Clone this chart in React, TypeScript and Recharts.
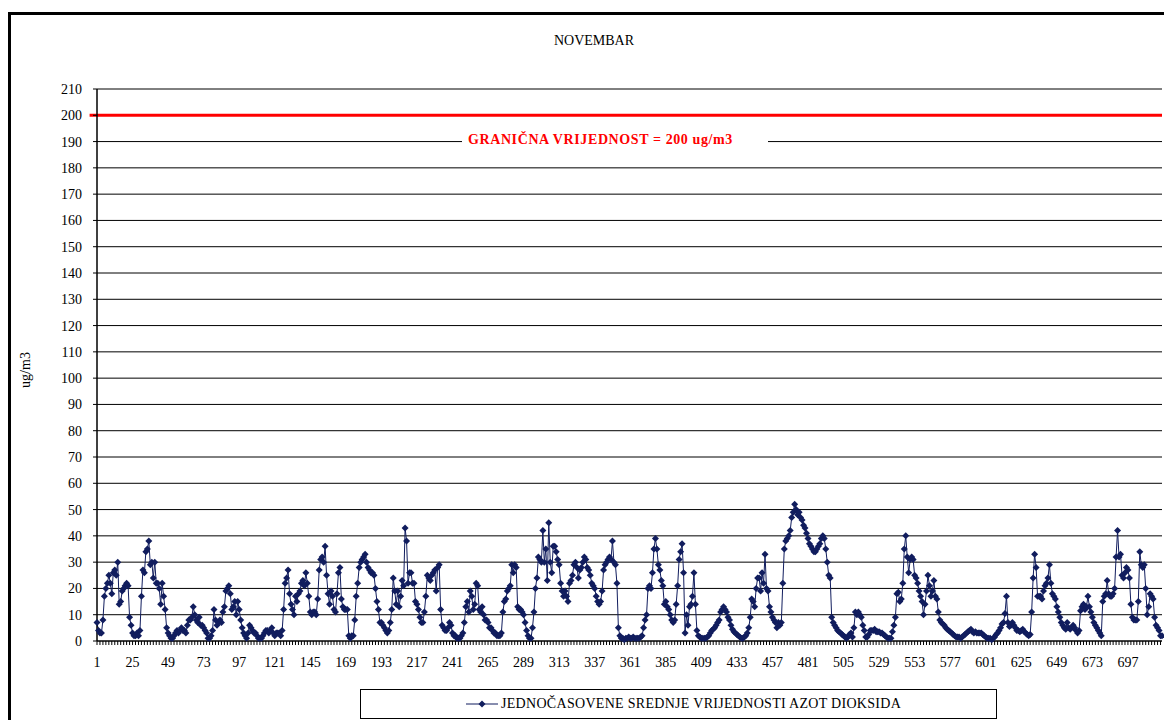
import React from "react"
import {
  LineChart,
  Line,
  XAxis,
  YAxis,
  CartesianGrid,
  ReferenceLine,
  Legend,
} from "recharts"

// hourly NO2 means, November, 24 values per day
const no2Days01to05 = [
  7, 4, 3, 3, 8, 17, 20, 22, 25, 22, 18, 26, 27, 25, 30, 14, 15, 19, 20, 21, 22, 21, 9, 6,
  3, 2, 2, 3, 2, 4, 17, 27, 26, 34, 35, 38, 29, 30, 24, 30, 22, 22, 20, 14, 22, 17, 12, 5,
  3, 2, 1, 1, 2, 3, 4, 3, 4, 5, 4, 4, 3, 6, 8, 8, 9, 13, 10, 8, 7, 9, 6, 6,
  5, 4, 3, 1, 1, 2, 4, 12, 8, 6, 7, 8, 7, 11, 13, 19, 20, 21, 18, 12, 13, 15, 10, 15,
  12, 8, 5, 3, 2, 1, 3, 6, 5, 4, 3, 3, 2, 1, 1, 1, 2, 3, 4, 4, 3, 4, 5, 3,
]
const no2Days06to10 = [
  2, 3, 3, 3, 2, 4, 12, 22, 24, 27, 18, 14, 12, 10, 17, 15, 18, 19, 22, 23, 21, 26, 22, 17,
  11, 10, 11, 11, 10, 16, 27, 31, 32, 30, 36, 25, 18, 14, 19, 17, 12, 11, 18, 26, 28, 16, 13, 12,
  12, 12, 2, 1, 2, 2, 8, 17, 22, 28, 30, 31, 32, 33, 30, 28, 27, 26, 26, 25, 20, 15, 12, 7,
  7, 6, 5, 4, 3, 4, 7, 12, 24, 19, 14, 19, 13, 17, 23, 21, 43, 38, 22, 26, 26, 22, 22, 15,
  14, 12, 9, 7, 7, 11, 17, 25, 24, 23, 25, 26, 27, 19, 28, 29, 12, 6, 5, 4, 4, 5, 7, 6,
]
const no2Days11to15 = [
  3, 2, 2, 1, 1, 1, 2, 3, 7, 13, 15, 11, 19, 17, 12, 14, 22, 21, 12, 11, 13, 10, 8, 8,
  7, 5, 5, 4, 3, 3, 2, 2, 2, 3, 11, 15, 16, 19, 20, 21, 29, 26, 29, 28, 13, 12, 12, 11,
  10, 7, 4, 2, 1, 1, 5, 11, 20, 24, 32, 31, 30, 42, 30, 35, 23, 45, 30, 26, 36, 36, 34, 31,
  29, 22, 19, 17, 19, 17, 15, 22, 23, 25, 29, 30, 28, 24, 27, 28, 30, 32, 31, 28, 27, 25, 22, 21,
  20, 17, 15, 14, 15, 19, 27, 29, 30, 31, 32, 31, 38, 30, 29, 22, 5, 2, 1, 1, 0.5, 1, 1, 1.5,
]
const no2Days16to20 = [
  1, 1, 1.5, 1, 1, 1, 1, 1.5, 2, 5, 8, 10, 20, 21, 20, 26, 35, 39, 35, 29, 27, 23, 21, 14,
  15, 13, 12, 10, 8, 7, 8, 14, 21, 31, 34, 37, 26, 3, 10, 6, 13, 14, 17, 26, 14, 4, 2, 1.5,
  1, 1, 1, 1, 1.5, 2, 3, 4, 4.5, 5, 6, 7, 8, 11, 12, 13, 12, 11, 9, 8, 6, 4.5, 3.5, 3,
  2.5, 2, 1.5, 1, 1, 1.5, 2, 3, 5, 9, 16, 15, 13, 20, 24, 24, 19, 26, 22, 33, 20, 19, 13, 11,
  9, 8, 7, 5, 7, 6, 7, 22, 35, 38, 39, 40, 42, 47, 49, 52, 50, 48, 49, 47, 46, 44, 43, 41,
]
const no2Days21to25 = [
  39, 37, 36, 35, 34, 34, 35, 36, 37, 39, 40, 39, 35, 30, 25, 24, 9, 7, 6, 5, 4, 3.5, 3, 2.5,
  2, 1.5, 1, 1.5, 2.5, 3, 1.5, 5, 11, 10, 11, 10, 9, 6, 4, 1.5, 1.5, 2.5, 4, 4, 4, 4.5, 3.5, 3.5,
  3.5, 3, 3, 2.5, 2, 1.5, 1, 1, 1, 3.5, 6, 9, 18, 18.5, 15, 16, 22, 35, 40, 32, 26, 31, 32, 31,
  25, 24, 22, 19, 17, 15, 10, 14, 19, 25, 21, 17, 19, 23, 17, 16, 11, 8, 7, 6.5, 6, 5, 4.5, 4,
  3.5, 3, 2.5, 2, 1.5, 1.5, 1.5, 1, 1.5, 2, 2.5, 3, 3.5, 4, 4.5, 3.5, 3, 3.5, 3, 3, 3, 3, 2.5, 2,
]
const no2Days26to30 = [
  1.5, 1, 1, 1, 0.5, 1, 1.5, 2.5, 3, 4, 5, 6.5, 7, 10.5, 17, 7, 5.5, 6, 7, 6, 5, 4, 4, 3.5,
  4, 4.5, 3.5, 3, 2.5, 2, 2.5, 11, 24, 33, 28, 17, 17, 17, 16, 19, 21, 22, 24, 29, 22, 18, 17, 16,
  13, 11, 9, 7, 6, 5, 4.5, 7, 5, 4.5, 5, 6, 5, 4, 3, 4, 11.5, 13, 14, 12, 13, 17, 13, 11,
  9, 7, 6, 5, 4, 3, 2, 15, 17, 18, 23, 18, 17, 17, 18, 20, 32, 42, 32, 33, 25, 24, 26, 28,
  27, 24, 14, 9, 8, 8, 8, 15, 34, 29, 28, 29, 20, 10, 13, 18, 17, 16, 9, 6, 5, 4, 2, 2,
]

const yTicks = [0, 10, 20, 30, 40, 50, 60, 70, 80, 90, 100, 110, 120, 130, 140, 150, 160, 170, 180, 190, 200, 210]
const xLabels = [1, 25, 49, 73, 97, 121, 145, 169, 193, 217, 241, 265, 289, 313, 337, 361, 385, 409, 433, 457, 481, 505, 529, 553, 577, 601, 625, 649, 673, 697]
const LIMIT = 200

const values = [
  ...no2Days01to05,
  ...no2Days06to10,
  ...no2Days11to15,
  ...no2Days16to20,
  ...no2Days21to25,
  ...no2Days26to30,
]
const data = values.map((v, i) => ({ hour: i + 1, no2: v }))
// minor tick marks every 2 hours
const xTickMarks = data.filter((d) => d.hour % 2 === 1).map((d) => d.hour)

const NAVY = "#111d5e"
const FONT = "'Liberation Serif', 'DejaVu Serif', serif"

const Diamond = ({ cx, cy, r = 3.5 }: any) => {
  if (cx == null || cy == null) return null
  return (
    <polygon
      points={`${cx},${cy - r} ${cx + r},${cy} ${cx},${cy + r} ${cx - r},${cy}`}
      fill={NAVY}
    />
  )
}

const XTick = ({ x, y, payload }: any) => {
  if (!xLabels.includes(payload.value)) return <g />
  return (
    <text x={x} y={y} dy={20} textAnchor="middle" fill="#000" fontSize={14} fontFamily={FONT}>
      {payload.value}
    </text>
  )
}

// label sits on the 190 gridline, with a white box behind it
const LimitLabel = ({ viewBox }: any) => {
  const { x, y } = viewBox
  return (
    <g>
      <rect x={x + 365} y={y - 12} width={306} height={18} fill="#fff" />
      <text
        x={x + 371}
        y={y + 2}
        fill="#ff0000"
        fontWeight="bold"
        fontSize={14}
        letterSpacing={0.6}
        fontFamily={FONT}
      >
        GRANIČNA VRIJEDNOST = 200 ug/m3
      </text>
    </g>
  )
}

const LegendBox = () => (
  <div
    style={{
      width: 635,
      height: 28,
      border: "1px solid #000",
      background: "#fff",
      display: "flex",
      alignItems: "center",
      color: "#000",
    }}
  >
    <svg width={140} height={28} style={{ flexShrink: 0 }}>
      <line x1={105} y1={14} x2={137} y2={14} stroke={NAVY} strokeWidth={1} />
      <Diamond cx={121} cy={14} />
    </svg>
    <span style={{ fontFamily: FONT, fontSize: 14, letterSpacing: 0.3 }}>
      JEDNOČASOVENE SREDNJE VRIJEDNOSTI AZOT DIOKSIDA
    </span>
  </div>
)

export default function App() {
  return (
    <div
      style={{
        position: "absolute",
        left: 0,
        top: 0,
        width: 1164,
        height: 720,
        overflow: "hidden",
        background: "#fff",
      }}
    >
      <div
        style={{
          position: "absolute",
          left: 8,
          top: 12,
          width: 1200,
          height: 800,
          borderLeft: "3px solid #000",
          borderTop: "3px solid #000",
        }}
      />
      <div
        style={{
          position: "absolute",
          left: 0,
          top: 33,
          width: 1188,
          textAlign: "center",
          fontFamily: FONT,
          fontSize: 14,
          lineHeight: "16px",
        }}
      >
        NOVEMBAR
      </div>
      <div style={{ position: "absolute", left: 0, top: 0 }}>
        <LineChart
          width={1166}
          height={720}
          data={data}
          margin={{ top: 89, right: 4, left: 47, bottom: 19 }}
        >
          <CartesianGrid vertical={false} stroke="#000" strokeWidth={1} />
          <XAxis
            dataKey="hour"
            type="number"
            domain={[1, 720]}
            ticks={xTickMarks}
            interval={0}
            height={30}
            tickSize={4}
            tickMargin={2}
            tick={<XTick />}
            axisLine={{ stroke: "#000" }}
            tickLine={{ stroke: "#000" }}
          />
          <YAxis
            domain={[0, 210]}
            ticks={yTicks}
            interval={0}
            width={50}
            tickSize={4}
            tickMargin={11}
            axisLine={{ stroke: "#000", strokeWidth: 1.5 }}
            tickLine={{ stroke: "#000" }}
            tick={{ fill: "#000", fontSize: 14, fontFamily: FONT }}
            label={() => (
              <text
                x={30}
                y={370}
                transform="rotate(-90 30 370)"
                textAnchor="middle"
                fill="#000"
                fontSize={14}
                fontFamily={FONT}
              >
                ug/m3
              </text>
            )}
          />
          <ReferenceLine
            segment={[
              { x: -4, y: LIMIT },
              { x: 720, y: LIMIT },
            ]}
            ifOverflow="visible"
            stroke="#ff0000"
            strokeWidth={3}
          />
          <ReferenceLine y={190} stroke="none" label={<LimitLabel />} />
          <Legend
            content={<LegendBox />}
            wrapperStyle={{ position: "absolute", left: 360, top: 689, width: 637, height: 30 }}
          />
          <Line
            type="linear"
            dataKey="no2"
            name="JEDNOČASOVENE SREDNJE VRIJEDNOSTI AZOT DIOKSIDA"
            stroke={NAVY}
            strokeWidth={1}
            dot={(p: any) => <Diamond key={p.index} cx={p.cx} cy={p.cy} />}
            activeDot={false}
            isAnimationActive={false}
          />
        </LineChart>
      </div>
    </div>
  )
}
